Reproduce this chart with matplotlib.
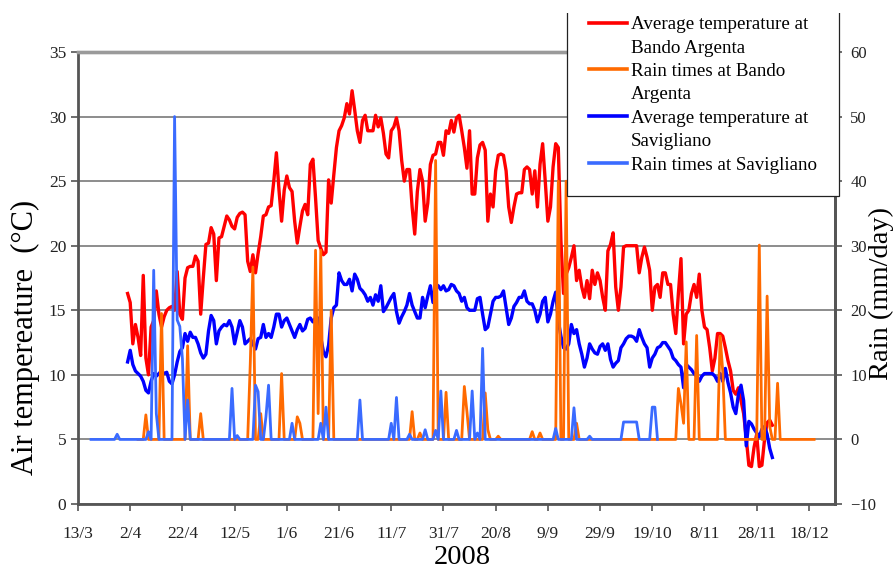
import numpy as np
import pandas as pd
import matplotlib
matplotlib.use("Agg")
import matplotlib.pyplot as plt
from matplotlib.lines import Line2D
from matplotlib.patches import Rectangle
from matplotlib.ticker import FixedLocator, FuncFormatter
import matplotlib.dates as mdates

plt.rcParams["font.family"] = ["Liberation Serif", "DejaVu Serif"]

# daily mean temperatures, one value per day
temp_start = "2008-04-01"
temp_bando = [
    16.3, 15.6, 12.4, 13.9, 12.9, 11.5, 17.7, 11.3, 10.0, 13.7,
    14.2, 16.5, 14.7, 13.7, 14.5, 15.0, 15.2, 15.3, 15.0, 18.0,
    14.7, 14.3, 17.5, 18.3, 18.4, 18.4, 19.2, 18.8, 14.7, 17.5,
    20.1, 20.2, 21.4, 20.9, 17.3, 20.6, 20.7, 21.5, 22.3, 22.0,
    21.5, 21.3, 22.2, 22.5, 22.6, 22.4, 18.8, 18.0, 19.3, 17.9,
    19.4, 20.7, 22.3, 22.4, 23.0, 23.1, 25.0, 27.2, 24.3, 21.9,
    24.3, 25.4, 24.5, 24.2, 21.9, 20.2, 21.5, 22.7, 23.2, 22.4,
    26.3, 26.7, 23.7, 20.4, 19.8, 19.3, 19.5, 25.1, 23.3, 25.5,
    27.6, 28.9, 29.3, 29.9, 31.0, 30.2, 32.0, 30.5, 28.9, 28.0,
    29.7, 30.1, 28.9, 28.9, 28.9, 30.1, 29.2, 29.9, 28.7, 27.1,
    26.8, 28.9, 29.2, 29.9, 28.9, 26.6, 25.0, 25.9, 25.9, 23.0,
    20.9, 24.2, 25.9, 25.0, 21.9, 23.3, 26.3, 27.0, 27.1, 28.0,
    28.0, 27.0, 28.9, 28.7, 29.7, 28.8, 29.9, 30.1, 28.9, 27.6,
    26.0, 28.9, 24.0, 24.0, 26.8, 27.8, 28.0, 27.4, 21.9, 24.0,
    23.0, 25.8, 27.0, 27.1, 27.0, 25.8, 23.0, 21.8, 23.0, 24.0,
    24.1, 24.1, 25.9, 26.1, 25.9, 24.0, 25.8, 23.0, 26.3, 27.9,
    25.0, 21.9, 23.0, 26.1, 27.9, 27.6, 20.4, 16.3, 17.8, 18.3,
    19.1, 20.0, 17.3, 18.1, 16.8, 16.0, 17.3, 15.9, 18.1, 17.0,
    17.9, 17.3, 16.0, 15.0, 19.6, 20.1, 21.0, 16.8, 15.0, 16.8,
    19.9, 20.0, 20.0, 20.0, 20.0, 20.0, 17.9, 19.1, 19.9, 19.1,
    18.1, 15.0, 16.8, 17.0, 16.0, 17.9, 17.9, 17.0, 17.0, 14.7,
    13.2, 16.3, 19.0, 12.4, 14.7, 15.0, 16.3, 17.0, 16.0, 17.8,
    15.0, 13.7, 13.5, 12.1, 10.3, 11.3, 13.2, 13.2, 13.0, 12.1,
    11.1, 10.3, 8.8, 8.5, 9.0, 8.0, 7.0, 5.1, 3.0, 2.9,
    4.4, 5.4, 2.9, 3.0, 5.0, 6.3, 6.5, 6.1,
]
temp_savigliano = [
    11.0, 11.9, 10.8, 10.3, 10.1, 9.9, 9.5, 8.8, 8.6, 9.5,
    10.1, 9.9, 10.1, 10.3, 10.1, 10.2, 9.5, 9.3, 10.0, 11.0,
    11.8, 12.1, 13.2, 12.6, 13.3, 12.9, 12.9, 12.4, 11.7, 11.3,
    11.6, 13.4, 14.6, 14.2, 12.4, 13.4, 13.7, 13.9, 13.8, 14.2,
    13.7, 12.4, 13.3, 14.2, 13.7, 12.4, 12.6, 12.8, 12.4, 12.0,
    12.8, 12.9, 13.9, 12.9, 13.2, 12.9, 13.7, 14.7, 14.7, 13.7,
    14.2, 14.4, 13.9, 13.4, 12.9, 13.5, 13.9, 13.4, 13.6, 14.3,
    14.4, 14.1, 14.4, 14.4, 12.9, 11.8, 11.4, 12.3, 14.4, 15.2,
    15.4, 17.9, 17.3, 17.0, 17.0, 17.4, 16.5, 17.8, 17.4, 16.7,
    16.5, 16.2, 15.7, 16.0, 15.4, 16.2, 15.7, 16.9, 14.9, 15.2,
    15.6, 16.0, 16.3, 14.9, 14.0, 14.5, 14.9, 15.4, 16.3, 15.4,
    14.9, 14.4, 14.4, 16.0, 15.2, 16.1, 16.9, 15.6, 17.0, 16.9,
    16.6, 16.9, 16.5, 16.6, 17.0, 16.9, 16.5, 16.3, 15.7, 16.0,
    15.2, 15.0, 15.0, 15.0, 15.9, 16.0, 14.7, 13.5, 13.7, 14.7,
    15.7, 16.0, 16.0, 16.1, 16.5, 15.2, 13.9, 14.4, 15.3, 15.6,
    16.0, 16.0, 16.5, 15.7, 15.5, 15.5, 15.0, 14.1, 14.7, 15.7,
    16.0, 14.1, 14.7, 15.7, 16.4, 14.2, 13.0, 12.1, 12.0, 12.4,
    13.9, 13.2, 13.5, 12.4, 11.6, 10.6, 11.3, 12.4, 12.0, 11.7,
    11.6, 12.2, 12.4, 11.9, 12.4, 11.2, 10.6, 10.9, 11.1, 12.1,
    12.4, 12.8, 13.0, 13.0, 12.9, 12.6, 13.5, 12.9, 12.4, 12.1,
    10.6, 11.3, 11.6, 12.1, 12.2, 12.5, 12.5, 12.2, 11.9, 11.3,
    11.1, 10.8, 10.6, 9.0, 10.8, 10.6, 10.4, 10.1, 9.9, 9.5,
    9.9, 10.1, 10.1, 10.1, 10.1, 9.9, 9.5, 10.1, 9.5, 10.5,
    9.4, 8.6, 7.5, 7.0, 8.5, 9.2, 8.0, 4.5, 6.4, 6.2,
    5.8, 5.5, 5.2, 5.8, 6.0, 5.4, 4.3, 3.6,
]

# rain records: every day in the range is 0 mm except the listed days
rain_bando_range = ("5/4", "20/12")
rain_bando_days = [
    "8/4", "14/4", "24/4", "29/4", "18/5", "19/5", "22/5", "30/5",
    "5/6", "6/6", "12/6", "13/6", "14/6", "18/6", "19/7", "22/7",
    "28/7", "1/8", "8/8", "9/8", "16/8", "17/8", "21/8", "3/9",
    "6/9", "13/9", "16/9", "20/9", "29/10", "30/10", "31/10", "1/11",
    "5/11", "14/11", "15/11", "29/11", "2/12", "3/12", "6/12",
]
rain_bando_mm = [
    3.8, 19.5, 14.5, 4.0, 11.8, 26.7, 4.0, 10.2,
    3.5, 2.5, 29.3, 4.0, 29.3, 20.0, 4.3, 1.0,
    43.2, 7.3, 8.2, 4.3, 7.2, 1.5, 0.5, 1.2,
    1.0, 40.0, 40.0, 2.5, 7.9, 5.5, 2.5, 15.1,
    16.1, 16.0, 10.5, 30.1, 22.2, 2.0, 8.7,
]
rain_sav_range = ("18/3", "21/10")
rain_sav_days = [
    "28/3", "9/4", "11/4", "12/4", "19/4", "20/4", "21/4", "22/4",
    "24/4", "11/5", "13/5", "20/5", "21/5", "24/5", "25/5", "3/6",
    "14/6", "16/6", "29/6", "11/7", "13/7", "18/7", "24/7", "28/7",
    "30/7", "5/8", "11/8", "13/8", "15/8", "12/9", "19/9", "25/9",
    "8/10", "9/10", "10/10", "11/10", "12/10", "13/10", "19/10", "20/10",
]
rain_sav_mm = [
    0.8, 1.2, 26.2, 4.0, 50.0, 18.5, 17.5, 12.5,
    6.1, 7.9, 0.6, 8.4, 7.4, 3.5, 8.4, 2.5,
    2.5, 5.0, 6.1, 2.5, 6.5, 0.8, 1.5, 1.4,
    7.5, 1.4, 7.5, 1.0, 14.1, 1.7, 4.9, 0.5,
    2.7, 2.7, 2.7, 2.7, 2.7, 2.7, 5.0, 5.0,
]

legend_labels = [
    "Average temperature at", "Bando Argenta",
    "Rain times at Bando", "Argenta",
    "Average temperature at", "Savigliano",
    "Rain times at Savigliano",
]
x_ticks = ["13/3", "2/4", "22/4", "12/5", "1/6", "21/6", "11/7", "31/7",
           "20/8", "9/9", "29/9", "19/10", "8/11", "28/11", "18/12"]


def to_dates(days):
    return pd.to_datetime([d + "/2008" for d in days], format="%d/%m/%Y")


def daily_rain(day_range, days, mm):
    first, last = to_dates(day_range)
    s = pd.Series(0.0, index=pd.date_range(first, last))
    s[to_dates(days)] = mm
    return s


RED = "#ff0000"
ORANGE = "#ff6a00"
BLUE = "#0000ff"
LIGHT = "#3a6bff"

fig = plt.figure(figsize=(8.95, 5.7), dpi=100)
ax = fig.add_axes([78 / 895, 66 / 570, 757 / 895, 452 / 570])
ax2 = ax.twinx()

t_dates = pd.date_range(temp_start, periods=len(temp_bando))
ax.plot(t_dates, temp_bando, color=RED, lw=2.4, solid_joinstyle="round")
ax.plot(t_dates, temp_savigliano, color=BLUE, lw=2.4, solid_joinstyle="round")

bando = daily_rain(rain_bando_range, rain_bando_days, rain_bando_mm)
sav = daily_rain(rain_sav_range, rain_sav_days, rain_sav_mm)
ax2.plot(bando.index, bando.values, color=ORANGE, lw=2.0)
ax2.plot(sav.index, sav.values, color=LIGHT, lw=2.0)

ax.set_ylim(0, 35)
ax.set_yticks(range(0, 36, 5))
ax2.set_ylim(-10, 60)
ax2.set_yticks(range(-10, 61, 10))

tick_dates = to_dates(x_ticks)
ax.set_xlim(tick_dates[0], pd.Timestamp("2008-12-28"))
ax.xaxis.set_major_locator(FixedLocator(mdates.date2num(tick_dates)))
ax.xaxis.set_major_formatter(FuncFormatter(
    lambda v, pos: "%d/%d" % (mdates.num2date(v).day, mdates.num2date(v).month)))

ax.yaxis.grid(True, color="#6e6e6e", lw=1.1)
ax.set_axisbelow(True)

for a in (ax, ax2):
    for side in ("left", "bottom", "right"):
        a.spines[side].set_color("#555555")
        a.spines[side].set_linewidth(2.0)
    a.spines["top"].set_color("#9a9a9a")
    a.spines["top"].set_linewidth(2.4)
ax2.spines["left"].set_visible(False)
ax2.spines["bottom"].set_visible(False)

ax.tick_params(axis="both", direction="out", length=5, width=1.2, color="#555555",
               labelsize=12.5, labelcolor="#222222")
ax.tick_params(axis="x", pad=11)
ax2.tick_params(axis="y", direction="out", length=5, width=1.2, color="#555555",
                labelsize=12, labelcolor="#222222", pad=6)

fig.text(25 / 895, 1 - 337 / 570, "Air tempereature  (°C)", rotation=90,
         ha="center", va="center", fontsize=22)
fig.text(881 / 895, 1 - 293 / 570, "Rain (mm/day)", rotation=90,
         ha="center", va="center", fontsize=20.5)
fig.text(462 / 895, 1 - 564 / 570, "2008", ha="center", va="baseline",
         fontsize=20.5)

handles = [
    Line2D([], [], color=RED, lw=2.6), Line2D([], [], color="none"),
    Line2D([], [], color=ORANGE, lw=2.6), Line2D([], [], color="none"),
    Line2D([], [], color=BLUE, lw=2.6), Line2D([], [], color="none"),
    Line2D([], [], color=LIGHT, lw=2.6),
]
leg = ax2.legend(handles, legend_labels, loc="upper left",
                 bbox_to_anchor=(567 / 895, 1 + 6 / 570),
                 bbox_transform=fig.transFigure, fontsize=13.7,
                 frameon=True, fancybox=False, framealpha=1,
                 borderpad=1.15, handlelength=2.0, handletextpad=0.2,
                 labelspacing=0.32, borderaxespad=0)
leg.get_frame().set_edgecolor("#222222")
leg.get_frame().set_linewidth(0.9)

# the top strip of the picture is blank above the legend box
fig.add_artist(Rectangle((555 / 895, 1 - 13 / 570), 300 / 895, 13 / 570,
                         transform=fig.transFigure, facecolor="white",
                         edgecolor="none", zorder=10))

fig.savefig("out.png", dpi=100)
